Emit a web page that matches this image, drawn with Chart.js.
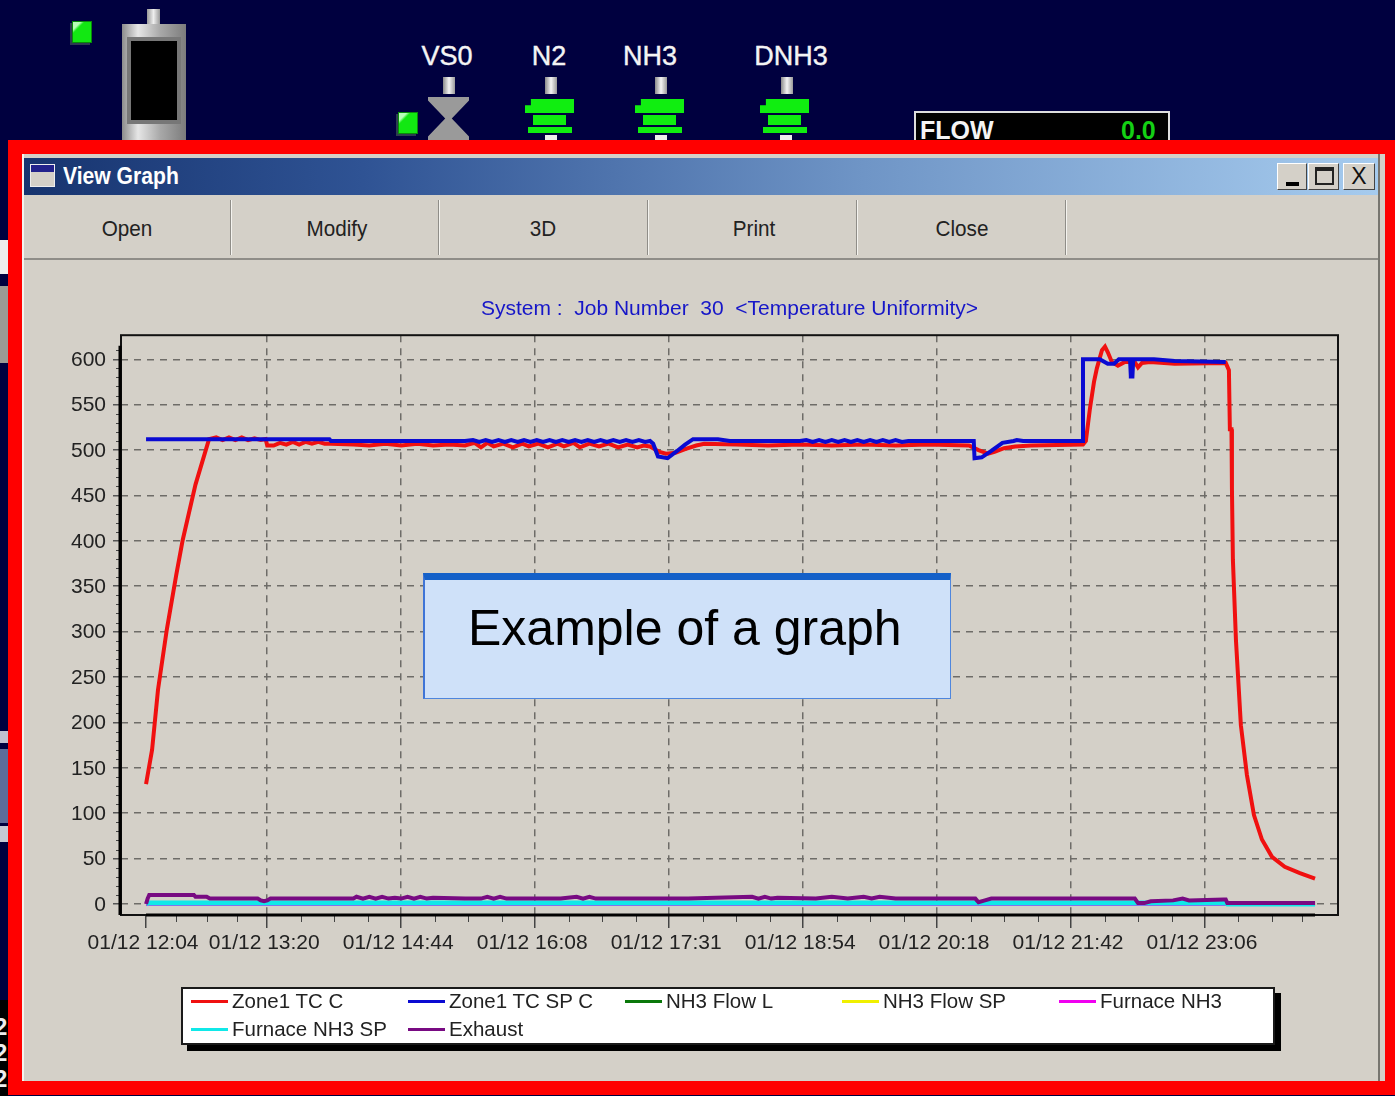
<!DOCTYPE html>
<html>
<head>
<meta charset="utf-8">
<title>View Graph</title>
<script src="https://cdn.jsdelivr.net/npm/chart.js@4"></script>
<style>
html, body { margin: 0; padding: 0; }
body { position: relative; width: 1395px; height: 1096px; overflow: hidden; background: #00003f; font-family: "Liberation Sans", Arial, sans-serif; }
.box { position: absolute; }
.led { position: absolute; width: 18px; height: 20px; background: linear-gradient(135deg, #b8ffb8 0 20%, #12e812 30%); border: 1px solid #0a8a0a; box-shadow: -2px 2px 0 #2c3c50; }
.plant { position: absolute; color: #f4f4f4; font-size: 27px; transform: translateX(-50%); top: 41px; -webkit-text-stroke: .4px #f4f4f4; }
.stem { position: absolute; top: 77px; width: 12px; height: 17px; background: linear-gradient(90deg, #8a8a8a, #f4f4f4 50%, #999); }
.valve { position: absolute; top: 99px; width: 50px; height: 41px; }
.valve i { position: absolute; background: #10ee10; display: block; }
.tool { position: absolute; top: 216px; color: #222; font-size: 22px; transform: translateX(-50%) scaleX(.94); }
.sep { position: absolute; top: 200px; height: 55px; width: 1px; background: #8f8d88; border-right: 1px solid #f4f3ef; }
.winbtn { position: absolute; top: 163px; height: 27px; background: #d4d0c8; border: 1px solid; border-color: #fff #444 #444 #fff; box-sizing: border-box; }
#graphCanvas { position: absolute; left: 24px; top: 260px; }
#legend { position: absolute; left: 181px; top: 987px; width: 1094px; height: 58px; box-sizing: border-box; background: #fff; border: 2px solid #1a1a1a; box-shadow: 6px 6px 0 #000; }
#legend div { position: absolute; font-size: 20.5px; color: #222; line-height: 26px; white-space: nowrap; }
#legend i { display: inline-block; width: 37px; height: 3px; vertical-align: middle; margin-right: 4px; position: relative; top: -1px; }
#note { position: absolute; left: 423px; top: 573px; width: 528px; height: 126px; box-sizing: border-box; background: #cfe1f9; border: 1px solid #4f86dd; border-left: 2px solid #3f74d6; border-top: 7px solid #1460c8; font-size: 50px; color: #000; }
#note span { position: absolute; left: 43px; top: 19px; white-space: nowrap; }
</style>
</head>
<body>

<!-- plant screen behind the window -->
<div class="led" style="left:72px;top:21px"></div>
<div class="box" style="left:147px;top:9px;width:13px;height:18px;background:linear-gradient(90deg,#999,#eee 50%,#999)"></div>
<div class="box" style="left:122px;top:24px;width:64px;height:116px;background:linear-gradient(90deg,#8c8c8c,#e6e6e6 25%,#a8a8a8 60%,#7c7c7c)"></div>
<div class="box" style="left:127px;top:37px;width:54px;height:87px;background:#000;border:4px solid #777;box-sizing:border-box"></div>
<div class="led" style="left:398px;top:112px"></div>
<div class="plant" style="left:447px">VS0</div>
<div class="plant" style="left:549px">N2</div>
<div class="plant" style="left:650px">NH3</div>
<div class="plant" style="left:791px">DNH3</div>
<div class="stem" style="left:443px"></div>
<div class="stem" style="left:545px"></div>
<div class="stem" style="left:655px"></div>
<div class="stem" style="left:781px"></div>
<div class="box" style="left:428px;top:97px;width:41px;height:43px;background:#9a9a9a;clip-path:polygon(0 0,100% 0,100% 8%,58% 50%,100% 92%,100% 100%,0 100%,0 92%,42% 50%,0 8%)"></div>
<div class="valve" style="left:525px"><i style="left:0;top:0;width:49px;height:14px;clip-path:polygon(12% 0,100% 0,100% 100%,0 100%,0 45%,12% 45%)"></i><i style="left:8px;top:16px;width:33px;height:10px"></i><i style="left:3px;top:28px;width:44px;height:6px"></i><i style="left:20px;top:36px;width:12px;height:5px;background:#eee"></i></div>
<div class="valve" style="left:635px"><i style="left:0;top:0;width:49px;height:14px;clip-path:polygon(12% 0,100% 0,100% 100%,0 100%,0 45%,12% 45%)"></i><i style="left:8px;top:16px;width:33px;height:10px"></i><i style="left:3px;top:28px;width:44px;height:6px"></i><i style="left:20px;top:36px;width:12px;height:5px;background:#eee"></i></div>
<div class="valve" style="left:760px"><i style="left:0;top:0;width:49px;height:14px;clip-path:polygon(12% 0,100% 0,100% 100%,0 100%,0 45%,12% 45%)"></i><i style="left:8px;top:16px;width:33px;height:10px"></i><i style="left:3px;top:28px;width:44px;height:6px"></i><i style="left:20px;top:36px;width:12px;height:5px;background:#eee"></i></div>
<div class="box" style="left:914px;top:111px;width:256px;height:40px;background:#000;border:2px solid #ddd;box-sizing:border-box"></div>
<div class="box" style="left:920px;top:116px;color:#f4f4f4;font-size:25px;font-weight:bold">FLOW</div>
<div class="box" style="left:1121px;top:116px;color:#14d014;font-size:25px;font-weight:bold">0.0</div>

<!-- left strip bits -->
<div class="box" style="left:0;top:240px;width:8px;height:34px;background:#eee"></div>
<div class="box" style="left:0;top:286px;width:8px;height:77px;background:#9a9a94"></div>
<div class="box" style="left:0;top:731px;width:8px;height:12px;background:#c0c0d0"></div>
<div class="box" style="left:0;top:749px;width:8px;height:74px;background:#5e6c9a"></div>
<div class="box" style="left:0;top:826px;width:8px;height:16px;background:#c4c8d4"></div>
<div class="box" style="left:0;top:1000px;width:8px;height:96px;background:#000"></div>
<div class="box" style="left:-6px;top:1014px;color:#eee;font-size:24px;line-height:26px;font-weight:bold">2<br>2<br>2</div>

<!-- red outline and window -->
<div class="box" style="left:8px;top:140px;width:1387px;height:955px;background:#f00"></div>
<div class="box" style="left:22px;top:154px;width:1363px;height:927px;background:#d4d0c8;border-left:2px solid #f4f3ef;box-sizing:border-box"></div>
<div class="box" style="left:1378px;top:154px;width:2px;height:927px;background:#77756f"></div>
<div class="box" style="left:24px;top:158px;width:1354px;height:37px;background:linear-gradient(90deg,#17346f,#2f5394 25%,#6f95c6 62%,#a6cbee)"></div>
<div class="box" style="left:30px;top:164px;width:25px;height:23px;background:linear-gradient(#22228c 0 32%,#d4d0c8 32%);border:1px solid #eee;box-sizing:border-box"></div>
<div class="box" style="left:63px;top:162px;color:#fff;font-size:24px;font-weight:bold;transform:scaleX(.88);transform-origin:left">View Graph</div>
<div class="winbtn" style="left:1277px;width:30px"><div class="box" style="left:8px;top:18px;width:13px;height:4px;background:#000"></div></div>
<div class="winbtn" style="left:1308px;width:31px"><div class="box" style="left:6px;top:3px;width:19px;height:18px;border:2px solid #222;border-top-width:4px;box-sizing:border-box"></div></div>
<div class="winbtn" style="left:1343px;width:32px;font-size:23px;text-align:center;color:#111;line-height:25px">X</div>
<div class="box" style="left:24px;top:258px;width:1354px;height:2px;background:#8f8d88"></div>
<div class="sep" style="left:230px"></div>
<div class="sep" style="left:438px"></div>
<div class="sep" style="left:647px"></div>
<div class="sep" style="left:856px"></div>
<div class="sep" style="left:1065px"></div>
<div class="tool" style="left:127px">Open</div>
<div class="tool" style="left:337px">Modify</div>
<div class="tool" style="left:543px">3D</div>
<div class="tool" style="left:754px">Print</div>
<div class="tool" style="left:962px">Close</div>

<canvas id="graphCanvas" width="1353" height="820"></canvas>
<div id="legend"></div>
<div id="note"><span>Example of a graph</span></div>

<script>
// tick positions are minutes after 01/12 12:04
const xTickMinutes = [0, 76, 160, 244, 328, 412, 496, 580, 664];
const xTickLabels = ["01/12 12:04", "01/12 13:20", "01/12 14:44", "01/12 16:08", "01/12 17:31", "01/12 18:54", "01/12 20:18", "01/12 21:42", "01/12 23:06"];
const xMinorMinutes = [19, 38, 57, 97, 118, 139, 181, 202, 223, 265, 286, 307, 349, 370, 391, 433, 454, 475, 517, 538, 559, 601, 622, 643, 685, 706, 725];
const yTickValues = [0, 50, 100, 150, 200, 250, 300, 350, 400, 450, 500, 550, 600];
const yMinorValues = [10, 20, 30, 40, 60, 70, 80, 90, 110, 120, 130, 140, 160, 170, 180, 190, 210, 220, 230, 240, 260, 270, 280, 290, 310, 320, 330, 340, 360, 370, 380, 390, 410, 420, 430, 440, 460, 470, 480, 490, 510, 520, 530, 540, 560, 570, 580, 590, 610];

const chartTitle = "System :  Job Number  30  <Temperature Uniformity>";
const seriesNames = ["Zone1 TC C", "Zone1 TC SP C", "NH3 Flow L", "NH3 Flow SP", "Furnace NH3", "Furnace NH3 SP", "Exhaust"];
const seriesColors = ["#f01010", "#0a0ad2", "#0a780a", "#f0f000", "#f000f0", "#10e8e8", "#780a82"];

const tcMinutes = [0, 3.8, 7.5, 13, 19, 23, 31, 39.5, 44, 48, 52, 56, 60, 64, 68, 72, 75, 76, 80, 84, 88, 92, 96, 100, 104, 108, 112, 116, 130, 140, 150, 160, 170, 180, 190, 200, 206, 210, 214, 218, 224, 230, 236, 240, 246, 252, 258, 262, 268, 272, 278, 284, 290, 296, 302, 308, 312, 316, 322, 326, 332, 338, 345, 350, 370, 390, 410, 430, 450, 470, 490, 516, 522, 528, 532, 538, 545, 555, 587.5, 589.3, 591.8, 594.4, 596.2, 599.4, 601.3, 603, 605.6, 609.4, 613.8, 620, 622, 624.5, 629.5, 645, 677, 679, 679.6, 680.6, 680.9, 681.5, 683.4, 686.5, 690.3, 694.7, 699.7, 706, 714, 723.5, 733];
const tcValues = [132, 170, 236, 302, 363, 401, 462, 512, 514, 511, 514, 511, 514, 511, 513, 511, 512, 505, 505, 508, 506, 509, 506, 509, 507, 509, 507, 507, 506, 505, 507, 505, 507, 505, 506, 505, 508, 503, 508, 504, 507, 503, 507, 504, 507, 503, 507, 504, 508, 503, 507, 504, 507, 503, 506, 503, 505, 504, 498, 496, 497, 501, 505, 507, 506, 505, 506, 505, 506, 505, 506, 505, 500, 496, 498, 502, 504, 505, 506, 510, 545, 575, 590, 610, 614, 608, 597, 593, 597, 597, 591, 596, 597, 595, 596, 588, 523, 523, 457, 379, 291, 197, 142, 98, 71, 52, 41, 34, 28];

const spMinutes = [0, 115, 116, 200, 205, 209, 213, 217, 221, 225, 229, 233, 237, 241, 245, 249, 253, 257, 261, 265, 269, 273, 277, 281, 285, 289, 293, 297, 301, 305, 309, 313, 316, 318, 321, 327, 333, 338, 343, 358.6, 366, 410, 414, 418, 422, 426, 430, 434, 438, 442, 446, 450, 454, 458, 462, 466, 470, 474, 478, 519, 519.5, 524, 530, 537, 544, 546, 550, 587, 587.5, 598, 603, 607, 610, 617, 617.5, 618.5, 619, 632, 645, 677];
const spValues = [512, 512, 510, 510, 511, 509, 511, 509, 511, 509, 511, 509, 511, 509, 511, 509, 511, 509, 511, 509, 511, 509, 511, 509, 511, 509, 511, 509, 511, 509, 511, 509, 510, 507, 493, 491, 499, 506, 512, 512, 510, 510, 511, 509, 511, 509, 511, 509, 511, 509, 511, 509, 511, 509, 511, 509, 511, 509, 510, 510, 491, 492, 499, 508, 510, 511, 510, 510, 600, 600, 595, 595, 600, 600, 581, 581, 600, 600, 598, 597];

const flowMinutes = [0, 733];
const flowValues = [0, 0];
const flowSpValues = [0, 0];
const furnaceValues = [0, 0];

const furnaceSpMinutes = [0, 1, 677, 678, 733];
const furnaceSpValues = [0, 1, 1, 0, 0];

const exhaustMinutes = [0, 1, 2, 30, 31, 38, 40, 70, 72, 74, 76, 78, 90, 110, 130, 132, 136, 140, 144, 148, 152, 156, 160, 164, 168, 172, 176, 180, 200, 210, 214, 218, 222, 226, 260, 270, 274, 278, 282, 300, 312, 320, 340, 380, 384, 388, 392, 396, 420, 430, 440, 450, 455, 460, 470, 490, 510, 520, 522, 526, 530, 550, 600, 620, 622, 626, 630, 644, 650, 654, 676, 677, 678, 733];
const exhaustValues = [0, 6, 10, 10, 8, 8, 6, 6, 4, 3, 4, 6, 6, 6, 6, 8, 6, 8, 6, 8, 6, 7, 6, 8, 6, 8, 6, 7, 6, 6, 8, 6, 8, 6, 6, 8, 6, 8, 6, 6, 6, 6, 6, 8, 6, 8, 6, 7, 6, 8, 6, 8, 6, 8, 6, 6, 6, 6, 2, 4, 6, 6, 6, 6, 1, 1, 3, 4, 6, 4, 5, 5, 1, 1];

function toPoints(xs, ys) {
    return xs.map((x, i) => ({ x: x, y: ys[i] }));
}

const seriesPoints = [
    toPoints(tcMinutes, tcValues),
    toPoints(spMinutes, spValues),
    toPoints(flowMinutes, flowValues),
    toPoints(flowMinutes, flowSpValues),
    toPoints(flowMinutes, furnaceValues),
    toPoints(furnaceSpMinutes, furnaceSpValues),
    toPoints(exhaustMinutes, exhaustValues)
];

// box, heavy axis lines and the short ticks the library does not draw
const axisExtras = {
    id: "axisExtras",
    afterDatasetsDraw(chart) {
        const ctx = chart.ctx;
        const area = chart.chartArea;
        const x = chart.scales.x;
        const y = chart.scales.y;
        ctx.save();
        ctx.strokeStyle = "#111";
        ctx.lineWidth = 2;
        ctx.strokeRect(area.left, area.top, area.right - area.left, area.bottom - area.top);

        ctx.lineWidth = 1;
        ctx.strokeStyle = "#444";
        xMinorMinutes.forEach(v => {
            const px = Math.round(x.getPixelForValue(v)) + 0.5;
            ctx.beginPath();
            ctx.moveTo(px, area.bottom);
            ctx.lineTo(px, area.bottom + 7);
            ctx.stroke();
        });
        yMinorValues.forEach(v => {
            const py = Math.round(y.getPixelForValue(v)) + 0.5;
            ctx.beginPath();
            ctx.moveTo(area.left - 5, py);
            ctx.lineTo(area.left, py);
            ctx.stroke();
        });

        ctx.strokeStyle = "#000";
        ctx.lineWidth = 3;
        ctx.beginPath();
        ctx.moveTo(x.getPixelForValue(0), area.bottom);
        ctx.lineTo(x.getPixelForValue(733), area.bottom);
        ctx.moveTo(area.left - 1, area.bottom);
        ctx.lineTo(area.left - 1, y.getPixelForValue(615));
        ctx.stroke();
        ctx.restore();
    }
};

const graph = new Chart(document.getElementById("graphCanvas"), {
    type: "line",
    data: {
        datasets: seriesNames.map((name, i) => ({
            label: name,
            data: seriesPoints[i],
            borderColor: seriesColors[i],
            backgroundColor: seriesColors[i],
            borderWidth: i === 5 ? 5 : 4,
            pointRadius: 0,
            tension: 0,
            fill: false,
            order: seriesNames.length - i
        }))
    },
    options: {
        responsive: false,
        animation: false,
        layout: { padding: { top: 0, right: 39, left: 0, bottom: 0 } },
        plugins: {
            legend: { display: false },
            tooltip: { enabled: false },
            title: {
                display: true,
                text: chartTitle,
                fullSize: false,
                color: "#1616c8",
                font: { family: "'Liberation Sans', Arial, sans-serif", size: 21, weight: "normal" },
                padding: { top: 37, bottom: 13 }
            }
        },
        scales: {
            x: {
                type: "linear",
                min: -15.7,
                max: 747.4,
                afterBuildTicks(scale) { scale.ticks = xTickMinutes.map(v => ({ value: v })); },
                afterFit(scale) { scale.height = 165; },
                border: { display: false, dash: [7, 6] },
                grid: {
                    color: c => (c.tick && c.tick.value === 0 ? "transparent" : "#6e6c68"),
                    tickColor: "#444",
                    tickLength: 13,
                    lineWidth: 1.5
                },
                ticks: {
                    autoSkip: false,
                    maxRotation: 0,
                    minRotation: 0,
                    padding: 3,
                    labelOffset: -3,
                    color: "#222",
                    font: { family: "'Liberation Sans', Arial, sans-serif", size: 21 },
                    callback: value => xTickLabels[xTickMinutes.indexOf(value)]
                }
            },
            y: {
                min: -12.1,
                max: 626.5,
                afterBuildTicks(scale) { scale.ticks = yTickValues.map(v => ({ value: v })); },
                afterFit(scale) { scale.width = 97; },
                border: { display: false, dash: [7, 6] },
                grid: { color: "#6e6c68", tickColor: "#555", tickLength: 8, lineWidth: 1.5 },
                ticks: {
                    padding: 7,
                    labelOffset: 1,
                    color: "#222",
                    font: { family: "'Liberation Sans', Arial, sans-serif", size: 21 }
                }
            }
        }
    },
    plugins: [axisExtras]
});

// legend keeps the fixed columns of the original program
const legendBox = document.getElementById("legend");
graph.data.datasets.forEach((ds, i) => {
    const item = document.createElement("div");
    item.style.left = (8 + 217 * (i % 5)) + "px";
    item.style.top = (i < 5 ? -1 : 27) + "px";
    item.innerHTML = '<i style="background:' + ds.borderColor + '"></i>';
    item.appendChild(document.createTextNode(ds.label));
    legendBox.appendChild(item);
});
</script>
</body>
</html>
